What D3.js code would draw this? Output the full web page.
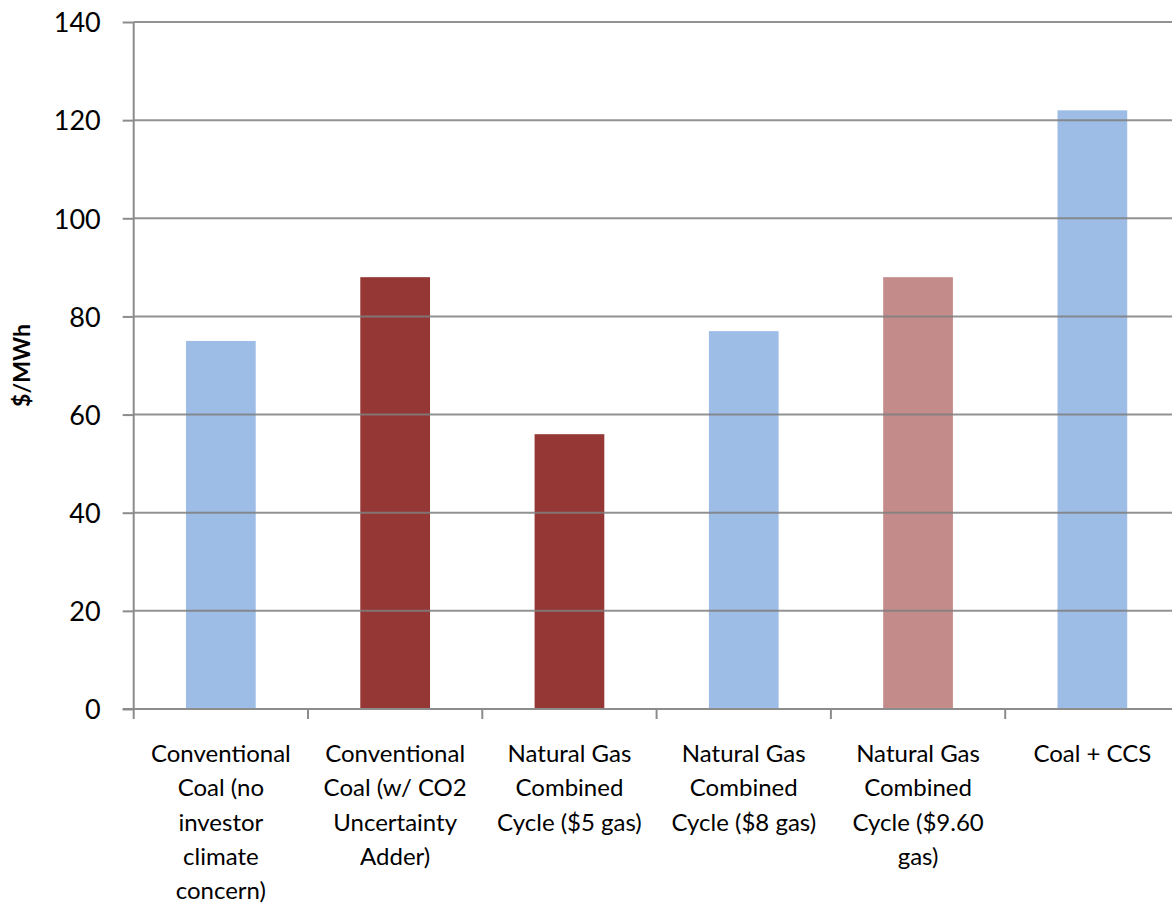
<!DOCTYPE html>
<html><head><meta charset="utf-8">
<script src="https://cdn.jsdelivr.net/npm/d3@7"></script>
<style>body{margin:0;background:#fff;overflow:hidden}svg{display:block}</style>
</head><body>
<svg id="c" width="1172" height="905"></svg>
<script>
const categories = [
  "Conventional\nCoal (no\ninvestor\nclimate\nconcern)",
  "Conventional\nCoal (w/ CO2\nUncertainty\nAdder)",
  "Natural Gas\nCombined\nCycle ($5 gas)",
  "Natural Gas\nCombined\nCycle ($8 gas)",
  "Natural Gas\nCombined\nCycle ($9.60\ngas)",
  "Coal + CCS"
];
const values = [75, 88, 56, 77, 88, 122];
const colorKeys = ["blue", "darkred", "darkred", "blue", "pink", "blue"];
const yTicks = [0, 20, 40, 60, 80, 100, 120, 140];
const yTitle = "$/MWh";

(function () {
const palette = {blue: "#9dbde6", darkred: "#953735", pink: "#c38b8a"};
const font = "Lato, 'Open Sans', sans-serif";
const svg = d3.select("#c");
const pLeft = 133.7, pTop = 22, pBottom = 709, band = 174.3;
const x = d3.scaleBand().domain(d3.range(categories.length))
  .range([pLeft, pLeft + band * categories.length]).paddingInner(0.6).paddingOuter(0.3);
const y = d3.scaleLinear().domain([0, 140]).range([pBottom, pTop]);

// bars
svg.append("g").selectAll("rect").data(values).join("rect")
  .attr("x", (d, i) => x(i)).attr("width", x.bandwidth())
  .attr("y", d => y(d)).attr("height", d => pBottom - y(d))
  .attr("fill", (d, i) => palette[colorKeys[i]]);

// gridlines
svg.append("g").selectAll("line").data(yTicks.filter(t => t > 0)).join("line")
  .attr("x1", pLeft).attr("x2", 1172).attr("y1", d => y(d)).attr("y2", d => y(d))
  .attr("stroke", "#7f7f7f").attr("stroke-width", 2).attr("stroke-opacity", 0.85);

// y axis
const ya = svg.append("g").attr("transform", `translate(${pLeft},0)`)
  .call(d3.axisLeft(y).tickValues(yTicks).tickSize(11).tickPadding(22));
ya.select(".domain").attr("stroke", "#8c8c8c").attr("stroke-width", 2).attr("d", `M0,${pTop}V${pBottom}`);
ya.selectAll(".tick line").attr("stroke", "#8c8c8c").attr("stroke-width", 2);
ya.selectAll(".tick text").attr("font-family", font).attr("font-size", 27).attr("fill", "#000")
  .attr("dy", "0.36em");

// x axis
const xb = d3.scaleLinear().domain([0, categories.length]).range([pLeft, pLeft + band * categories.length]);
const xa = svg.append("g").attr("transform", `translate(0,${pBottom})`);
xa.append("line").attr("x1", pLeft - 11).attr("x2", 1172).attr("stroke", "#8c8c8c").attr("stroke-width", 2);
xa.selectAll(".bt").data(d3.range(categories.length + 1)).join("line").attr("class", "bt")
  .attr("x1", d => xb(d)).attr("x2", d => xb(d)).attr("y1", 0).attr("y2", 10)
  .attr("stroke", "#8c8c8c").attr("stroke-width", 2);
const labs = xa.selectAll(".lab").data(categories).join("text").attr("class", "lab")
  .attr("text-anchor", "middle").attr("font-family", font).attr("font-size", 24).attr("fill", "#000")
  .attr("transform", (d, i) => `translate(${x(i) + x.bandwidth() / 2},53)`);
labs.selectAll("tspan").data(d => d.split("\n")).join("tspan")
  .attr("x", 0).attr("dy", (d, i) => i === 0 ? 0 : 34.3).text(d => d);

// y title
svg.append("text").attr("transform", `translate(30,${(pTop + pBottom) / 2}) rotate(-90)`)
  .attr("text-anchor", "middle").attr("font-family", font).attr("font-weight", "bold")
  .attr("font-size", 23).text(yTitle);
})();
</script>
</body></html>
